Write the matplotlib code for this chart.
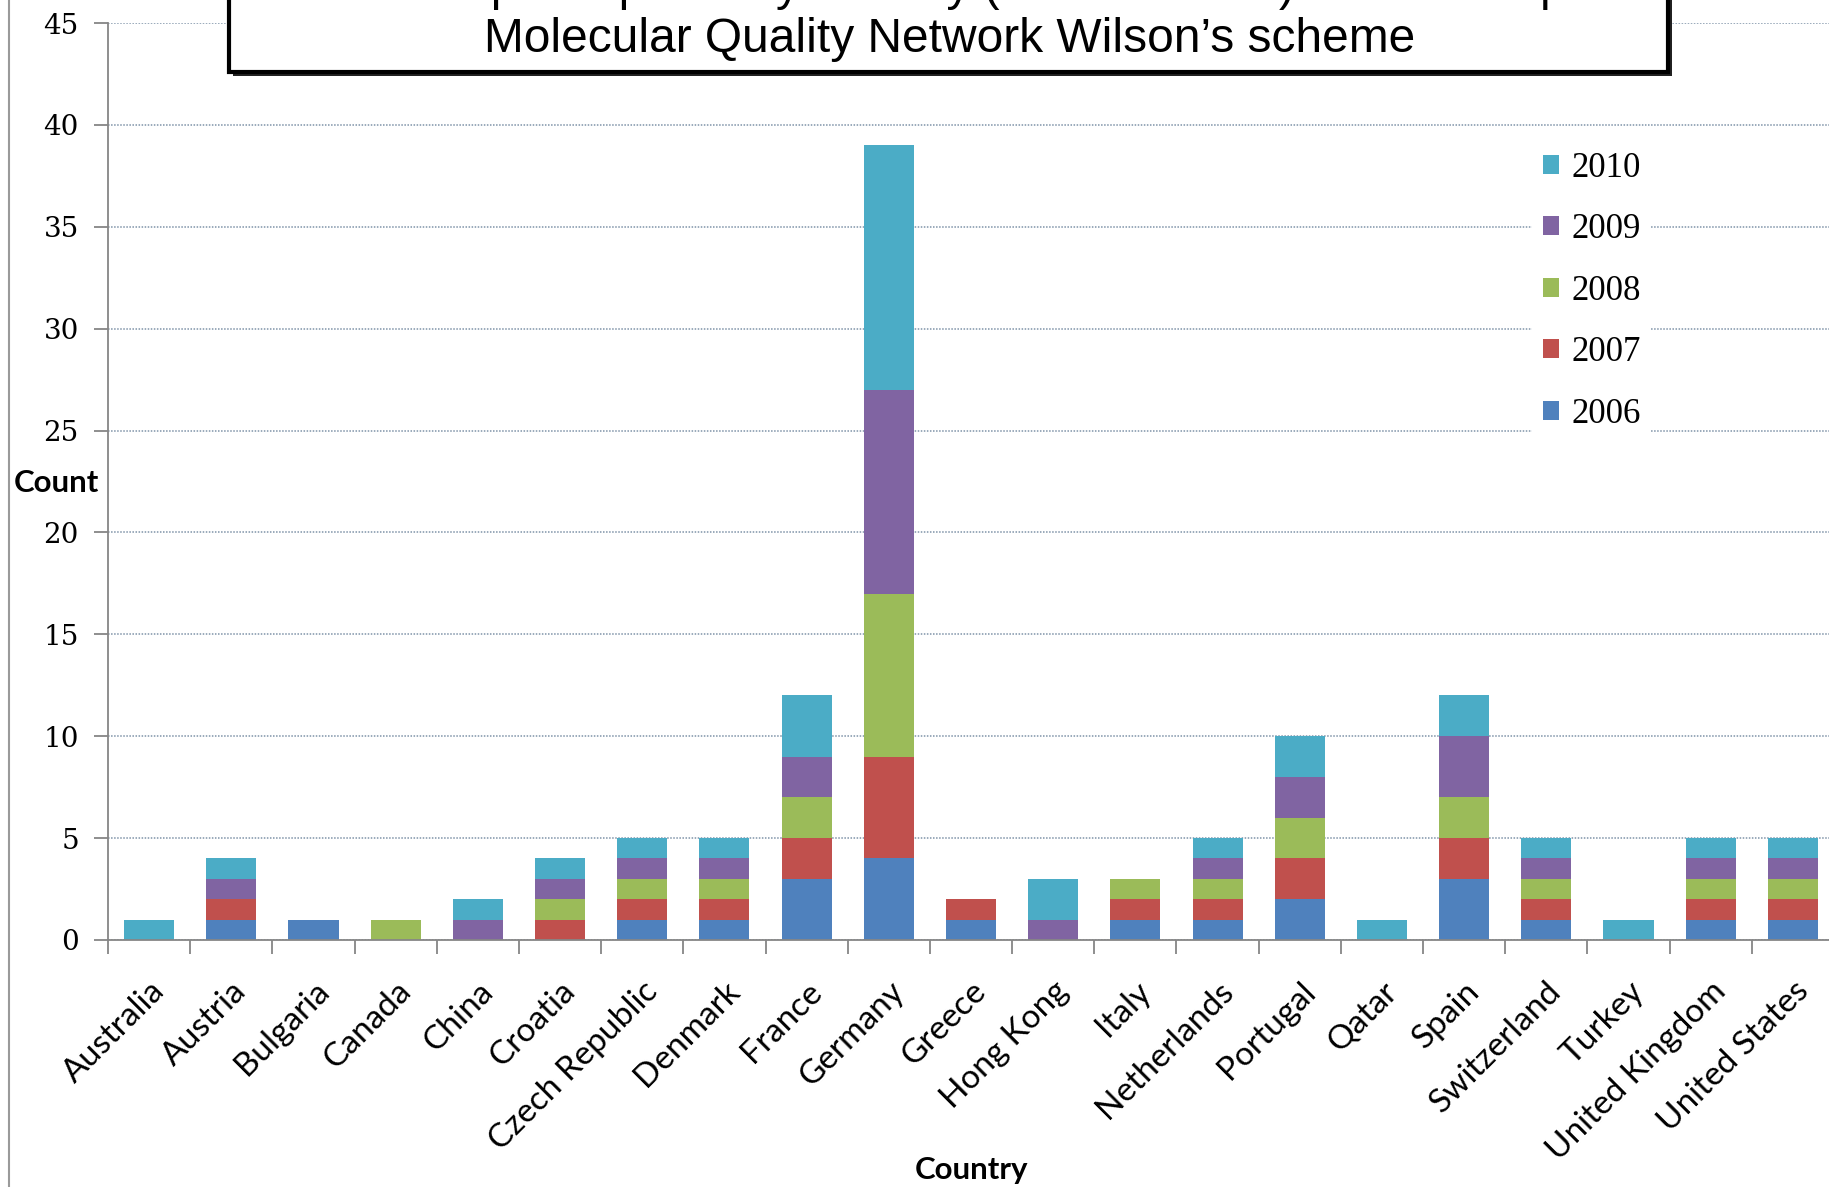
import numpy as np
import matplotlib.pyplot as plt
from matplotlib.patches import Rectangle
from matplotlib.lines import Line2D
from matplotlib.transforms import ScaledTranslation

countries = ["Australia", "Austria", "Bulgaria", "Canada", "China", "Croatia",
             "Czech Republic", "Denmark", "France", "Germany", "Greece",
             "Hong Kong", "Italy", "Netherlands", "Portugal", "Qatar", "Spain",
             "Switzerland", "Turkey", "United Kingdom", "United States"]
years = ["2006", "2007", "2008", "2009", "2010"]

c2006 = [0, 1, 1, 0, 0, 0, 1, 1, 3, 4, 1, 0, 1, 1, 2, 0, 3, 1, 0, 1, 1]
c2007 = [0, 1, 0, 0, 0, 1, 1, 1, 2, 5, 1, 0, 1, 1, 2, 0, 2, 1, 0, 1, 1]
c2008 = [0, 0, 0, 1, 0, 1, 1, 1, 2, 8, 0, 0, 1, 1, 2, 0, 2, 1, 0, 1, 1]
c2009 = [0, 1, 0, 0, 1, 1, 1, 1, 2, 10, 0, 1, 0, 1, 2, 0, 3, 1, 0, 1, 1]
c2010 = [1, 1, 0, 0, 1, 1, 1, 1, 3, 12, 0, 2, 0, 1, 2, 1, 2, 1, 1, 1, 1]

colors = ["#4F81BD", "#C0504D", "#9BBB59", "#8064A2", "#4BACC6"]

W, H = 1829, 1187
fig = plt.figure(figsize=(W / 100, H / 100), dpi=100)
ax = fig.add_axes([108 / W, 1 - 940 / H, (1834 - 108) / W, (940 - 23) / H])

x = np.arange(len(countries))
bottom = np.zeros(len(countries))
handles = []
for vals, col, yr in zip([c2006, c2007, c2008, c2009, c2010], colors, years):
    b = ax.bar(x, vals, width=0.61, bottom=bottom, color=col, label=yr, zorder=2)
    handles.append(b)
    bottom += np.array(vals)

ax.set_xlim(-0.5, len(countries) - 0.5)
ax.set_ylim(0, 45)
yt = np.arange(0, 46, 5)
ax.set_yticks(yt)
ax.set_yticklabels([str(v) for v in yt], fontsize=20, family="DejaVu Serif")
ax.yaxis.grid(True, color="#7f93a8", linestyle=(0, (1, 1)), linewidth=1.1, zorder=0)
ax.set_axisbelow(True)

for s in ["top", "right"]:
    ax.spines[s].set_visible(False)
for s in ["left", "bottom"]:
    ax.spines[s].set_color("#868686")
    ax.spines[s].set_linewidth(1.3)

ax.set_xticks(x)
ax.set_xticklabels(countries, rotation=45, ha="right", rotation_mode="anchor",
                   fontsize=24, family="Lato")
shift = ScaledTranslation(18 / 100, 0, fig.dpi_scale_trans)
for t in ax.get_xticklabels():
    t.set_transform(t.get_transform() + shift)
ax.set_xticks(np.arange(-0.5, len(countries), 1), minor=True)
ax.tick_params(axis="x", which="major", length=0, pad=26)
ax.tick_params(axis="x", which="minor", length=10, color="#868686", width=1.3)
ax.tick_params(axis="y", length=10, color="#868686", width=1.3, pad=11)

leg = ax.legend(handles[::-1], years[::-1], loc="upper left",
                bbox_to_anchor=(1515 / W, 1 - 124 / H), bbox_transform=fig.transFigure,
                labelspacing=0.82, handlelength=0.47, handleheight=0.47,
                handletextpad=0.35, borderpad=0.3, frameon=True, fancybox=False,
                prop={"family": "Liberation Serif", "size": 25})
leg.get_frame().set_edgecolor("none")
leg.get_frame().set_facecolor("white")
leg.get_frame().set_alpha(1)

fig.text(56 / W, 1 - 483 / H, "Count", fontsize=22.5, fontweight="bold",
         family="Lato", ha="center", va="center")
fig.text(972 / W, 1 - 1170 / H, "Country", fontsize=22.5, fontweight="bold",
         family="Lato", ha="center", va="center")

# title box, top cut off by the figure edge
fig.patches.append(Rectangle((233 / W, 1 - 76 / H), (1668 - 229) / W, 0.2,
                             transform=fig.transFigure, facecolor="#222222",
                             edgecolor="none", zorder=5))
fig.patches.append(Rectangle((229 / W, 1 - 72 / H), (1668 - 229) / W, 0.2,
                             transform=fig.transFigure, facecolor="white",
                             edgecolor="black", linewidth=3, zorder=6))
fig.text(950 / W, 1.0, "Number of participants by country (2006 to 2010) in the European",
         fontsize=34.5, family="Liberation Sans", ha="center", va="baseline", zorder=7)
fig.text(950 / W, 1 - 52 / H, "Molecular Quality Network Wilson\u2019s scheme",
         fontsize=34.5, family="Liberation Sans", ha="center", va="baseline", zorder=7)

fig.lines.append(Line2D([9 / W, 9 / W], [0, 1], transform=fig.transFigure,
                        color="#9a9a9a", linewidth=1.5))

fig.savefig("out.png", dpi=100)
